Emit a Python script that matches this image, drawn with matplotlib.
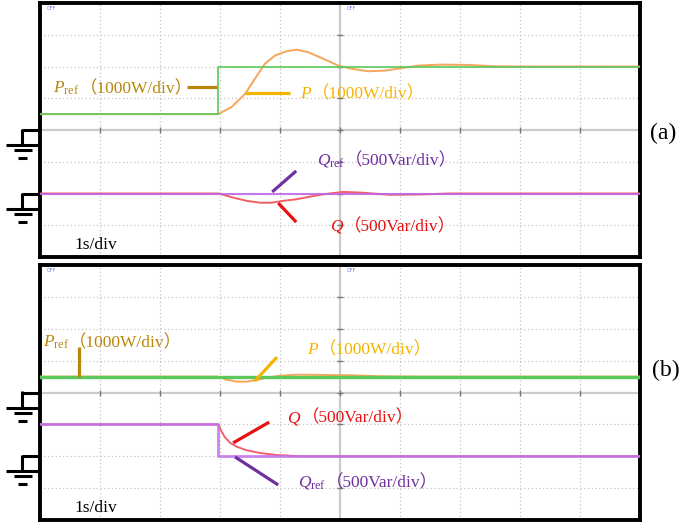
import numpy as np
import matplotlib.pyplot as plt

plt.rcParams['font.family'] = ['Liberation Serif', 'Noto Sans CJK SC']
plt.rcParams['mathtext.fontset'] = 'custom'
plt.rcParams['mathtext.rm'] = 'Liberation Serif'
plt.rcParams['mathtext.it'] = 'Liberation Serif:italic'

# all values in scope divisions (x: 1 s/div, y: P 1000 W/div, Q 500 Var/div)
# panel (a): active power reference step
t_pref_a = [0, 2.97, 2.97, 10]
pref_a = [0.5, 0.5, 2.0, 2.0]
t_p_a = [0, 2.97, 3.0, 3.19, 3.42, 3.58, 3.75, 3.92, 4.11, 4.28, 4.47, 4.69,
         4.97, 5.19, 5.47, 5.75, 6.03, 6.31, 6.69, 7.14, 7.53, 7.92, 10]
p_a = [0.5, 0.5, 0.53, 0.72, 1.14, 1.61, 2.09, 2.35, 2.48, 2.53, 2.45, 2.27,
       2.03, 1.93, 1.85, 1.87, 1.95, 2.03, 2.06, 2.05, 2.01, 2.0, 2.0]
t_qref_a = [0, 10]
qref_a = [-2.0, -2.0]
t_q_a = [0, 2.97, 3.0, 3.22, 3.44, 3.67, 3.86, 4.06, 4.28, 4.5, 4.67, 4.83,
         5.05, 5.33, 5.83, 6.33, 6.83, 10]
q_a = [-2.0, -2.0, -2.01, -2.13, -2.23, -2.29, -2.29, -2.23, -2.18, -2.1,
       -2.04, -2.0, -1.95, -1.97, -2.04, -2.03, -2.0, -2.0]

# panel (b): reactive power reference step
t_pref_b = [0, 10]
pref_b = [0.5, 0.5]
t_p_b = [0, 2.97, 3.11, 3.28, 3.44, 3.58, 3.78, 4.0, 4.33, 4.67, 5.17, 5.67,
         6.33, 10]
p_b = [0.5, 0.5, 0.40, 0.34, 0.34, 0.38, 0.46, 0.53, 0.56, 0.55, 0.54, 0.51,
       0.5, 0.5]
t_qref_b = [0, 2.97, 2.97, 10]
qref_b = [-1.0, -1.0, -2.0, -2.0]
t_q_b = [0, 2.97, 3.02, 3.08, 3.17, 3.28, 3.44, 3.67, 3.94, 4.33, 10]
q_b = [-1.0, -1.0, -1.2, -1.4, -1.58, -1.7, -1.81, -1.9, -1.96, -2.0, -2.0]

ground_levels = [0, -2]

c_pref = '#b8860b'
c_p = '#f5b400'
c_qref = '#7030a0'
c_q = '#e81010'
fs = 12.5

fig = plt.figure(figsize=(6.85, 5.29), dpi=100)
ax_a = fig.add_axes([40/685, 1 - 257/529, 600/685, 254/529])
ax_b = fig.add_axes([40/685, 1 - 520/529, 600/685, 255/529])


def ground(ax, level):
    # channel ground marker drawn just outside the left frame
    kw = dict(color='k', lw=2.2, clip_on=False, solid_capstyle='butt')
    px, py = 1/60, 1/31.75
    ax.plot([-18*px, 0], [level, level], **kw)
    ax.plot([-18*px, -18*px], [level + 1*py, level - 15*py], **kw)
    ax.plot([-34*px, 0], [level - 15*py]*2, **kw)
    ax.plot([-26*px, -8*px], [level - 20*py]*2, **kw)
    ax.plot([-22*px, -13*px], [level - 28*py]*2, **kw)


def scope(ax):
    ax.set_xlim(0, 10)
    ax.set_ylim(-4, 4)
    ax.set_xticks([])
    ax.set_yticks([])
    for i in range(1, 10):
        if i != 5:
            ax.axvline(i, color='#c4c4c4', lw=0.9, ls=(0, (1, 2)), zorder=1)
    for j in range(-3, 4):
        if j != 0:
            ax.axhline(j, color='#c4c4c4', lw=0.9, ls=(0, (1, 2)), zorder=1)
    ax.axhline(0, color='#cbcbcb', lw=1.6, zorder=1)
    ax.axvline(5, color='#cbcbcb', lw=1.6, zorder=1)
    ax.plot(range(1, 10), [0]*9, ls='none', marker='|', ms=5, mew=1,
            color='#777777', zorder=1)
    ax.plot([5]*7, range(-3, 4), ls='none', marker='_', ms=5, mew=1,
            color='#777777', zorder=1)
    for s in ax.spines.values():
        s.set_linewidth(2.8)
        s.set_color('black')
    for x in (0.12, 5.12):
        ax.text(x, 3.84, 'OFF', fontsize=3.5, color='#7080e0',
                family='DejaVu Sans', va='center')
    for lv in ground_levels:
        ground(ax, lv)
    ax.text(0.58, -3.75, '1s/div', fontsize=12.5, color='black',
            va='baseline')


def label(ax, x, y, head, rest, color):
    t1 = ax.text(x, y, head, color=color, fontsize=fs, va='baseline')
    ax.annotate(rest, xy=(1, y), xycoords=(t1, 'data'), color=color,
                fontsize=fs, va='baseline', ha='left')


def leader(ax, xs, ys, color):
    ax.plot(xs, ys, color=color, lw=2.3, solid_capstyle='butt', zorder=5)


scope(ax_a)
scope(ax_b)

# panel (a)
ax_a.plot(t_p_a, p_a, color='#f5a65b', lw=1.4, zorder=3)
ax_a.plot(t_pref_a, pref_a, color='#5cc85c', lw=1.2, zorder=3)
ax_a.plot(t_q_a, q_a, color='#f06060', lw=1.4, zorder=3)
ax_a.plot(t_qref_a, qref_a, color='#c060e8', lw=1.5, alpha=0.85, zorder=3)

label(ax_a, 0.22, 1.17, r'$P_{\mathrm{ref}}$', '（1000W/div）', c_pref)
leader(ax_a, [2.45, 2.95], [1.35, 1.35], c_pref)
label(ax_a, 4.33, 1.0, r'$P$', '（1000W/div）', c_p)
leader(ax_a, [3.42, 4.17], [1.17, 1.17], c_p)
label(ax_a, 4.62, -1.1, r'$Q_{\mathrm{ref}}$', '（500Var/div）', c_qref)
leader(ax_a, [3.87, 4.27], [-1.95, -1.29], c_qref)
label(ax_a, 4.83, -3.18, r'$Q$', '（500Var/div）', c_q)
leader(ax_a, [3.97, 4.27], [-2.3, -2.9], c_q)
ax_a.text(1.017, 0.488, '(a)', transform=ax_a.transAxes, fontsize=17,
          va='center', ha='left')

# panel (b)
ax_b.plot(t_p_b, p_b, color='#f5a65b', lw=1.4, zorder=3)
ax_b.plot(t_pref_b, pref_b, color='#5cc85c', lw=2.4, zorder=3)
ax_b.plot(t_q_b, q_b, color='#f06070', lw=1.4, zorder=3)
ax_b.plot(t_qref_b, qref_b, color='#c070f0', lw=2.0, alpha=0.85, zorder=3)

label(ax_b, 0.05, 1.43, r'$P_{\mathrm{ref}}$', '（1000W/div）', c_pref)
leader(ax_b, [0.65, 0.65], [0.49, 1.43], c_pref)
label(ax_b, 4.45, 1.21, r'$P$', '（1000W/div）', c_p)
leader(ax_b, [3.58, 3.95], [0.36, 1.11], c_p)
label(ax_b, 4.12, -0.93, r'$Q$', '（500Var/div）', c_q)
leader(ax_b, [3.22, 3.82], [-1.58, -0.93], c_q)
label(ax_b, 4.3, -2.96, r'$Q_{\mathrm{ref}}$', '（500Var/div）', c_qref)
leader(ax_b, [3.25, 3.97], [-2.02, -2.9], c_qref)
ax_b.text(1.02, 0.588, '(b)', transform=ax_b.transAxes, fontsize=17,
          va='center', ha='left')

fig.savefig('out.png', dpi=100)
